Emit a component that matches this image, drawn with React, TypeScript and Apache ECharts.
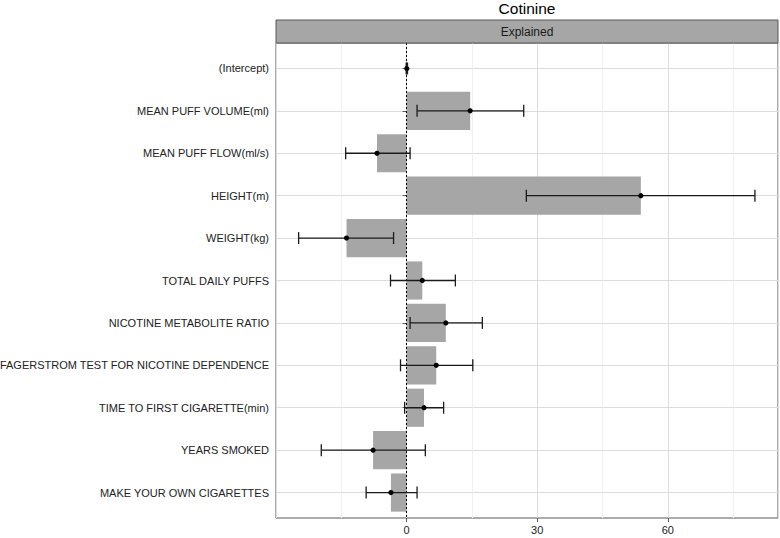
import React, { useEffect, useRef } from "react";
import * as echarts from "echarts";

const categories = [
  "(Intercept)",
  "MEAN PUFF VOLUME(ml)",
  "MEAN PUFF FLOW(ml/s)",
  "HEIGHT(m)",
  "WEIGHT(kg)",
  "TOTAL DAILY PUFFS",
  "NICOTINE METABOLITE RATIO",
  "FAGERSTROM TEST FOR NICOTINE DEPENDENCE",
  "TIME TO FIRST CIGARETTE(min)",
  "YEARS SMOKED",
  "MAKE YOUR OWN CIGARETTES",
];
const estimates = [0.05, 14.6, -6.8, 53.8, -13.8, 3.6, 9.0, 6.8, 4.0, -7.7, -3.6];
const lower = [-0.1, 2.4, -14.0, 27.5, -24.8, -3.7, 0.8, -1.4, -0.45, -19.6, -9.3];
const upper = [0.2, 26.9, 0.8, 80.0, -3.0, 11.2, 17.4, 15.2, 8.5, 4.3, 2.4];
const xTickLabels = [0, 30, 60];
const titleText = "Cotinine";
const stripText = "Explained";

const FONT = "'Liberation Sans', Arial, sans-serif";

export default function App() {
  const ref = useRef<HTMLDivElement>(null);
  useEffect(() => {
    if (!ref.current) return;
    const chart = echarts.init(ref.current, null, { renderer: "svg" });
    const rows = categories.map((_, i) => [estimates[i], i, lower[i], upper[i]]);
    const gridLeft = 276;
    const gridRight = 2;
    const gridTop = 43;
    const gridBottom = 20;
    const panelW = 780 - gridLeft - gridRight;
    const xMin = -30;
    const xMax = 85.3;
    chart.setOption({
      animation: false,
      backgroundColor: "#ffffff",
      textStyle: { fontFamily: FONT },
      title: {
        text: titleText,
        left: gridLeft + panelW / 2,
        textAlign: "center",
        top: 0,
        padding: 0,
        textStyle: { fontFamily: FONT, fontSize: 15.5, fontWeight: "normal", color: "#000" },
      },
      graphic: [
        {
          type: "rect",
          shape: { x: gridLeft, y: 20, width: panelW, height: gridTop - 20 },
          style: { fill: "#a6a6a6", stroke: "#595959", lineWidth: 1 },
          z: 10,
        },
        {
          type: "text",
          x: gridLeft + panelW / 2,
          y: (20 + gridTop) / 2,
          style: {
            text: stripText,
            fontFamily: FONT,
            fontSize: 12,
            fill: "#1a1a1a",
            align: "center",
            verticalAlign: "middle",
          },
          z: 11,
        },
      ],
      grid: {
        left: gridLeft,
        right: gridRight,
        top: gridTop,
        bottom: gridBottom,
        outerBoundsMode: "none",
        containLabel: false,
        show: true,
        borderColor: "#595959",
        borderWidth: 1,
        backgroundColor: "#ffffff",
      },
      xAxis: [
        {
          type: "value",
          position: "bottom",
          min: xMin,
          max: xMax,
          interval: 15,
          axisLine: { show: false },
          axisTick: { show: false },
          axisLabel: { show: false },
          splitLine: { show: true, lineStyle: { color: ["#dcdcdc", "#f0f0f0"], width: 1 } },
        },
        {
          type: "value",
          position: "bottom",
          min: xMin,
          max: xMax,
          interval: 30,
          axisLine: { show: false },
          axisTick: {
            show: true,
            length: 4,
            customValues: xTickLabels,
            lineStyle: { color: "#595959" },
          },
          axisLabel: {
            customValues: xTickLabels,
            margin: 6,
            fontSize: 11,
            fontFamily: FONT,
            color: "#222",
            formatter: (v: number) => (xTickLabels.indexOf(v) >= 0 ? String(v) : ""),
          },
          splitLine: { show: false },
        },
      ],
      yAxis: {
        type: "value",
        inverse: true,
        min: -0.6,
        max: categories.length - 1 + 0.6,
        minInterval: 1,
        maxInterval: 1,
        splitNumber: 11,
        axisLine: { show: false },
        axisTick: {
          show: true,
          length: 4,
          customValues: categories.map((_, i) => i),
          lineStyle: { color: "#595959" },
        },
        axisLabel: {
          customValues: categories.map((_, i) => i),
          margin: 7,
          fontSize: 11,
          fontFamily: FONT,
          color: "#222",
          formatter: (v: number) =>
            Number.isInteger(v) && v >= 0 && v < categories.length ? categories[v] : "",
        },
        splitLine: { show: true, lineStyle: { color: "#dcdcdc", width: 1 } },
      },
      series: [
        {
          type: "custom",
          name: "bars",
          xAxisIndex: 0,
          data: rows,
          encode: { x: 0, y: 1 },
          renderItem: (params: any, api: any) => {
            const v = api.value(0);
            const i = api.value(1);
            const p0 = api.coord([0, i]);
            const p1 = api.coord([v, i]);
            const h = api.size([0, 0.9])[1];
            return {
              type: "rect",
              shape: {
                x: Math.min(p0[0], p1[0]),
                y: p0[1] - h / 2,
                width: Math.abs(p1[0] - p0[0]),
                height: h,
              },
              style: { fill: "#a6a6a6" },
            };
          },
          markLine: {
            silent: true,
            symbol: "none",
            label: { show: false },
            lineStyle: { color: "#000", type: [2, 2], width: 1 },
            data: [{ xAxis: 0 }],
          },
        },
        {
          type: "custom",
          name: "errors",
          xAxisIndex: 0,
          data: rows,
          encode: { x: 0, y: 1 },
          z: 6,
          renderItem: (params: any, api: any) => {
            const v = api.value(0);
            const i = api.value(1);
            const lo = api.value(2);
            const hi = api.value(3);
            const pl = api.coord([lo, i]);
            const ph = api.coord([hi, i]);
            const pe = api.coord([v, i]);
            const cap = 6;
            const ls = { stroke: "#1a1a1a", lineWidth: 1.3 };
            return {
              type: "group",
              children: [
                { type: "line", shape: { x1: pl[0], y1: pl[1], x2: ph[0], y2: ph[1] }, style: ls },
                { type: "line", shape: { x1: pl[0], y1: pl[1] - cap, x2: pl[0], y2: pl[1] + cap }, style: ls },
                { type: "line", shape: { x1: ph[0], y1: ph[1] - cap, x2: ph[0], y2: ph[1] + cap }, style: ls },
                { type: "circle", shape: { cx: pe[0], cy: pe[1], r: 2.6 }, style: { fill: "#000" } },
              ],
            };
          },
        },
      ],
    });
    return () => chart.dispose();
  }, []);
  return (
    <div
      ref={ref}
      style={{ position: "fixed", left: 0, top: 0, width: 780, height: 538 }}
    />
  );
}
